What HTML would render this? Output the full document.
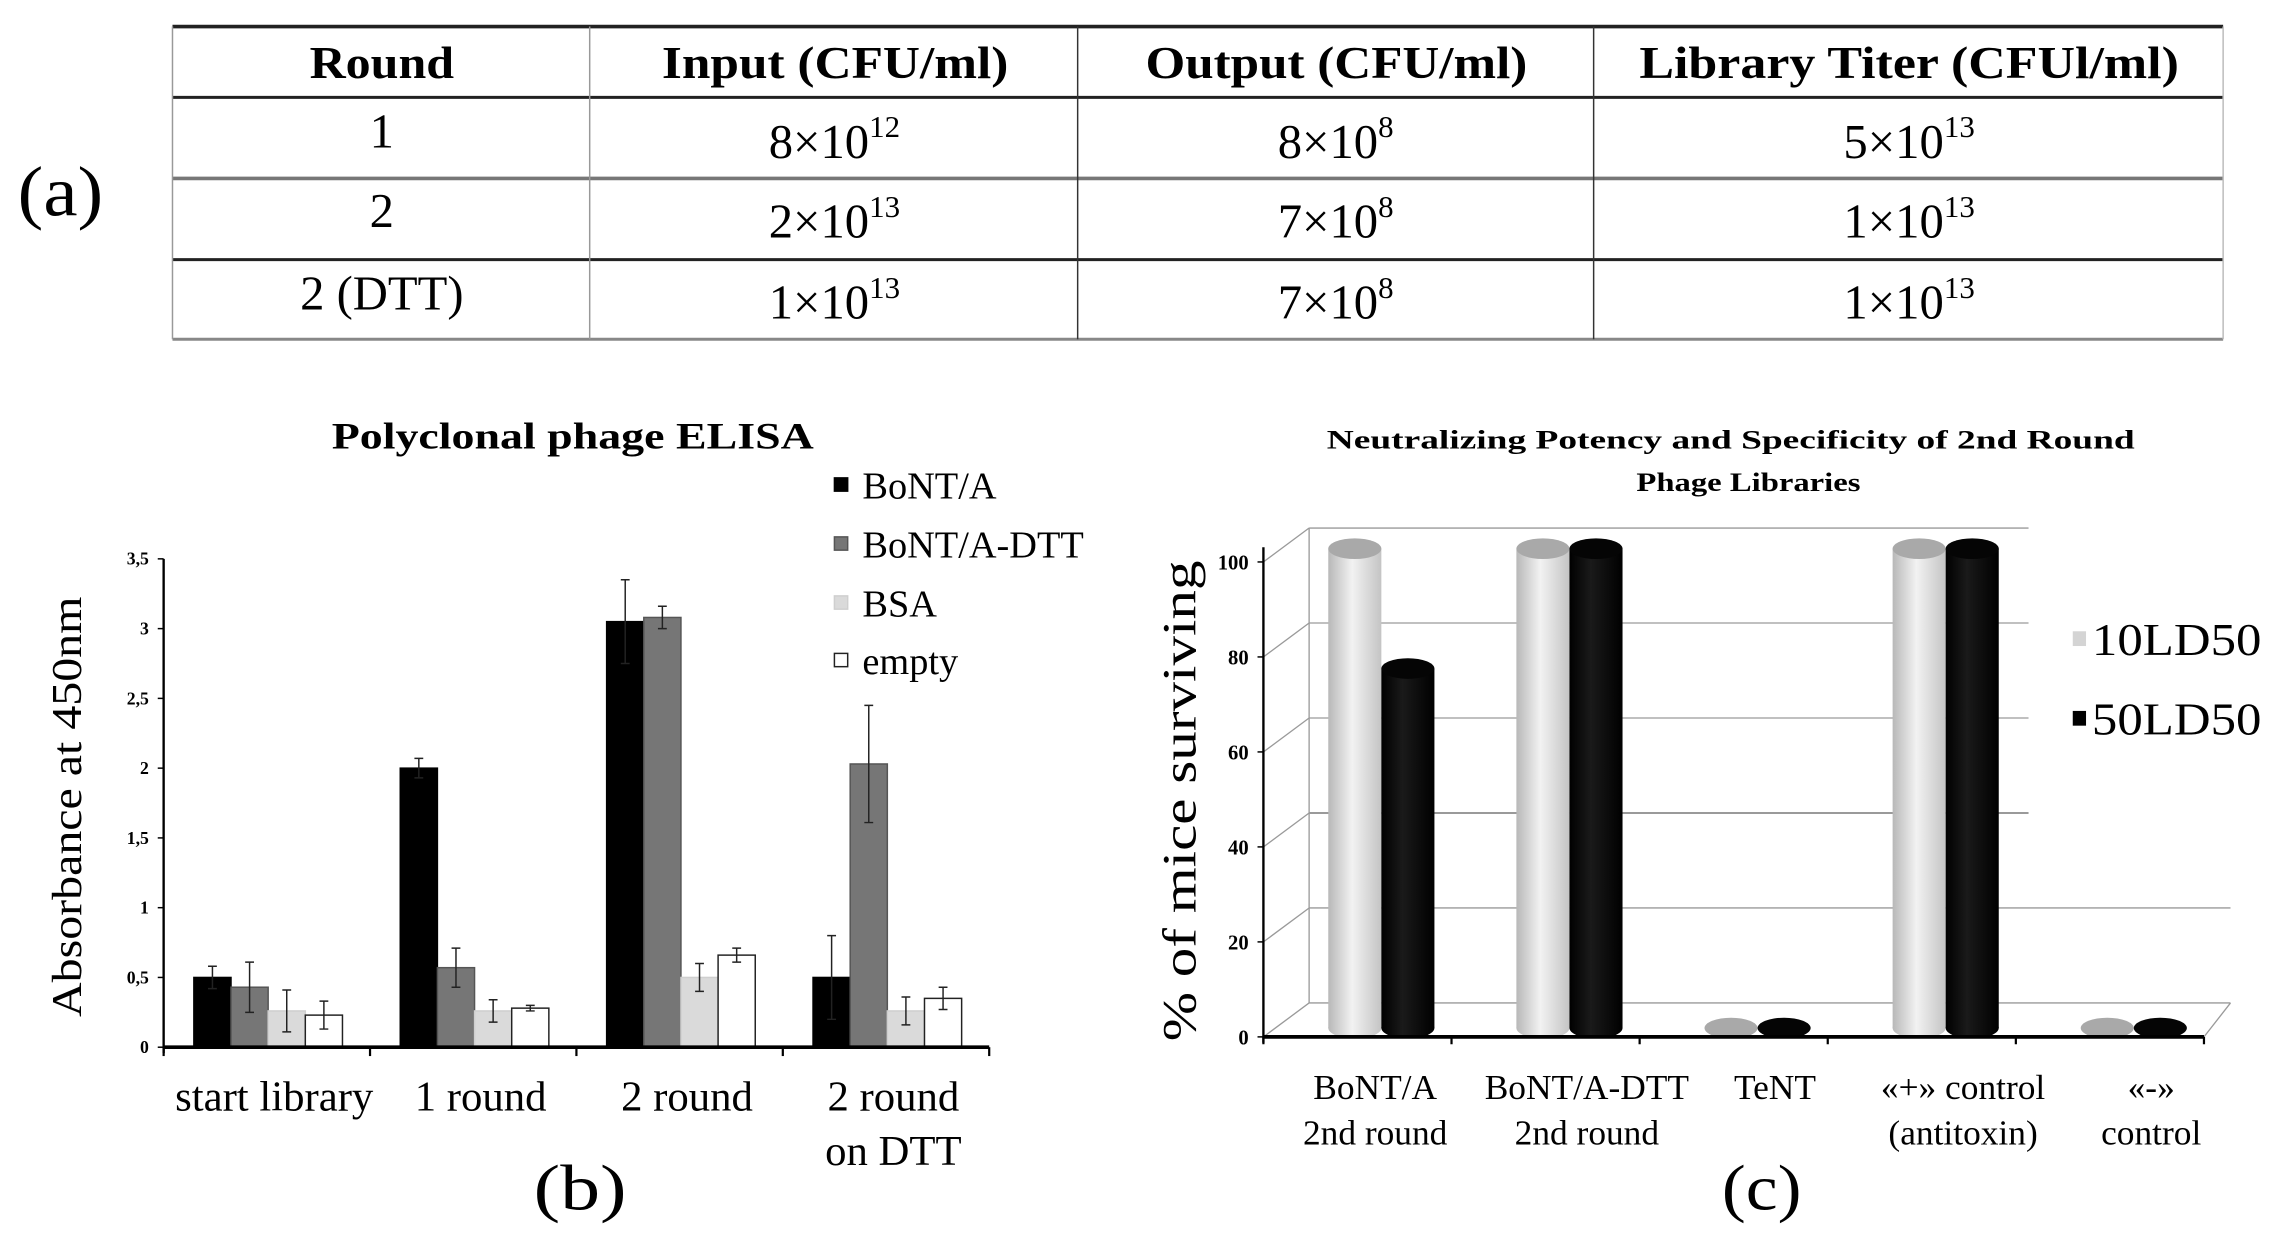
<!DOCTYPE html>
<html><head><meta charset="utf-8">
<style>
html,body{margin:0;padding:0;background:#fff;}
svg{display:block;font-family:"Liberation Serif","Times New Roman","DejaVu Serif",serif;}
text{font-family:"Liberation Serif","Times New Roman","DejaVu Serif",serif;}
</style></head>
<body>
<svg id="fig" width="2288" height="1236" viewBox="0 0 1552 838" preserveAspectRatio="none" xmlns="http://www.w3.org/2000/svg" font-family="Liberation Serif, Times New Roman, DejaVu Serif, serif">
<defs>
<linearGradient id="gLight" x1="0" x2="1" y1="0" y2="0">
<stop offset="0" stop-color="#b8b8b8"/><stop offset="0.45" stop-color="#f2f2f2"/><stop offset="1" stop-color="#c4c4c4"/>
</linearGradient>
<linearGradient id="gDark" x1="0" x2="1" y1="0" y2="0">
<stop offset="0" stop-color="#000"/><stop offset="0.4" stop-color="#1a1a1a"/><stop offset="1" stop-color="#000"/>
</linearGradient>
</defs>

<!-- (a) table -->
<g>
<text x="12" y="146" font-size="48" textLength="58" lengthAdjust="spacingAndGlyphs">(a)</text>
<line x1="117" y1="18" x2="1508" y2="18" stroke="#222" stroke-width="2.5"/>
<line x1="117" y1="66" x2="1508" y2="66" stroke="#222" stroke-width="2"/>
<line x1="117" y1="121" x2="1508" y2="121" stroke="#777" stroke-width="2.5"/>
<line x1="117" y1="176" x2="1508" y2="176" stroke="#222" stroke-width="2"/>
<line x1="117" y1="230" x2="1508" y2="230" stroke="#888" stroke-width="2"/>
<line x1="117" y1="18" x2="117" y2="230" stroke="#999" stroke-width="1"/>
<line x1="400" y1="18" x2="400" y2="230" stroke="#999" stroke-width="1"/>
<line x1="731" y1="18" x2="731" y2="230" stroke="#333" stroke-width="1"/>
<line x1="1081" y1="18" x2="1081" y2="230" stroke="#333" stroke-width="1"/>
<line x1="1508" y1="18" x2="1508" y2="230" stroke="#bbb" stroke-width="1"/>
<g font-size="31" font-weight="bold" lengthAdjust="spacingAndGlyphs">
<text x="210" y="53" textLength="98" lengthAdjust="spacingAndGlyphs">Round</text>
<text x="449" y="53" textLength="235" lengthAdjust="spacingAndGlyphs">Input (CFU/ml)</text>
<text x="777" y="53" textLength="259" lengthAdjust="spacingAndGlyphs">Output (CFU/ml)</text>
<text x="1112" y="53" textLength="366" lengthAdjust="spacingAndGlyphs">Library Titer (CFUl/ml)</text>
</g>
<g font-size="33" text-anchor="middle">
<text x="259" y="100">1</text>
<text x="566" y="107">8×10<tspan font-size="21" dy="-14">12</tspan></text>
<text x="906" y="107">8×10<tspan font-size="21" dy="-14">8</tspan></text>
<text x="1295" y="107">5×10<tspan font-size="21" dy="-14">13</tspan></text>
<text x="259" y="154">2</text>
<text x="566" y="161">2×10<tspan font-size="21" dy="-14">13</tspan></text>
<text x="906" y="161">7×10<tspan font-size="21" dy="-14">8</tspan></text>
<text x="1295" y="161">1×10<tspan font-size="21" dy="-14">13</tspan></text>
<text x="259" y="210">2 (DTT)</text>
<text x="566" y="216">1×10<tspan font-size="21" dy="-14">13</tspan></text>
<text x="906" y="216">7×10<tspan font-size="21" dy="-14">8</tspan></text>
<text x="1295" y="216">1×10<tspan font-size="21" dy="-14">13</tspan></text>
</g>
</g>

<!-- (b) chart -->
<g id="chartB">
<text x="225" y="304" font-size="25" font-weight="bold" textLength="327" lengthAdjust="spacingAndGlyphs">Polyclonal phage ELISA</text>
<text transform="translate(55,547) rotate(-90)" font-size="29" text-anchor="middle" textLength="285" lengthAdjust="spacingAndGlyphs">Absorbance at 450nm</text>
<text x="362" y="820" font-size="44" textLength="63" lengthAdjust="spacingAndGlyphs">(b)</text>
</g>

<!-- (c) chart -->
<g id="chartC">
<text x="900" y="304" font-size="18" font-weight="bold" textLength="548" lengthAdjust="spacingAndGlyphs">Neutralizing Potency and Specificity of 2nd Round</text>
<text x="1110" y="333" font-size="18" font-weight="bold" textLength="152" lengthAdjust="spacingAndGlyphs">Phage Libraries</text>
<text transform="translate(811,543) rotate(-90)" font-size="32" text-anchor="middle" textLength="326" lengthAdjust="spacingAndGlyphs">% of mice surviving</text>
<text x="1168" y="820" font-size="44" textLength="54" lengthAdjust="spacingAndGlyphs">(c)</text>
</g>
</svg>

<script>
// ---------- Chart (b) data ----------
const bCategories = [["start library"], ["1 round"], ["2 round"], ["2 round", "on DTT"]];
const bSeriesNames = ["BoNT/A", "BoNT/A-DTT", "BSA", "empty"];
const bBoNTA = [0.5, 2.0, 3.05, 0.5];
const bBoNTADTT = [0.43, 0.57, 3.08, 2.03];
const bBSA = [0.26, 0.26, 0.5, 0.26];
const bEmpty = [0.23, 0.28, 0.66, 0.35];
const bErrBoNTA = [0.08, 0.07, 0.3, 0.3];
const bErrBoNTADTT = [0.18, 0.14, 0.08, 0.42];
const bErrBSA = [0.15, 0.08, 0.1, 0.1];
const bErrEmpty = [0.1, 0.02, 0.05, 0.08];
const bTicks = ["0", "0,5", "1", "1,5", "2", "2,5", "3", "3,5"];

// ---------- Chart (c) data ----------
const cCategories = [["BoNT/A", "2nd round"], ["BoNT/A-DTT", "2nd round"], ["TeNT"], ["«+» control", "(antitoxin)"], ["«-»", "control"]];
const c10LD50 = [100, 100, 0, 100, 0];
const c50LD50 = [75, 100, 0, 100, 0];
const cTicks = ["0", "20", "40", "60", "80", "100"];

const NS = "http://www.w3.org/2000/svg";
function mk(tag, attrs, parent) {
  const e = document.createElementNS(NS, tag);
  for (const k in attrs) e.setAttribute(k, attrs[k]);
  parent.appendChild(e);
  return e;
}

// ---------- draw (b) ----------
(function () {
  const g = document.getElementById("chartB");
  const x0 = 111, x1 = 671, y0 = 710, unit = 94.6;
  const yB = v => y0 - v * unit;
  const gw = (x1 - x0) / bCategories.length;
  const bw = 25.2, off = 20.5;
  const series = [bBoNTA, bBoNTADTT, bBSA, bEmpty];
  const errs = [bErrBoNTA, bErrBoNTADTT, bErrBSA, bErrEmpty];
  const fills = ["#000", "#767676", "#dadada", "#fff"];
  const strokes = ["#000", "#555", "#cfcfcf", "#222"];
  bTicks.forEach((t, i) => {
    const v = i * 0.5;
    const tx = mk("text", { x: x0 - 10, y: yB(v) + 4, "font-size": 12, "font-weight": "bold", "text-anchor": "end" }, g);
    tx.textContent = t;
    
    
    mk("line", { x1: x0 - 4, y1: yB(v), x2: x0, y2: yB(v), stroke: "#000", "stroke-width": 1 }, g);
  });
  series.forEach((arr, s) => {
    arr.forEach((v, i) => {
      const bx = x0 + i * gw + off + s * bw;
      const r = mk("rect", { x: bx, y: yB(v), width: bw, height: y0 - yB(v), fill: fills[s], stroke: strokes[s], "stroke-width": 1 }, g);
      
      
      const e = errs[s][i], cx = bx + bw / 2;
      const lo = yB(Math.max(0, v - e)), hi = yB(v + e);
      const eb = mk("path", { d: `M${cx},${hi}V${lo}M${cx - 3},${hi}H${cx + 3}M${cx - 3},${lo}H${cx + 3}`, stroke: "#222", "stroke-width": 1, fill: "none" }, g);
      
      
    });
  });
  mk("line", { x1: x0, y1: yB(3.5), x2: x0, y2: y0 + 4, stroke: "#000", "stroke-width": 1.6 }, g);
  mk("line", { x1: x0, y1: y0, x2: x1, y2: y0, stroke: "#000", "stroke-width": 2.5 }, g);
  for (let i = 0; i <= bCategories.length; i++) {
    const tx = x0 + i * gw;
    mk("line", { x1: tx, y1: y0, x2: tx, y2: y0 + 6, stroke: "#000", "stroke-width": 1.5 }, g);
  }
  bCategories.forEach((lines, i) => {
    const cx = x0 + (i + 0.5) * gw + 5;
    lines.forEach((ln, j) => {
      const t = mk("text", { x: cx, y: 753 + j * 37, "font-size": 29, "text-anchor": "middle" }, g);
      t.textContent = ln;
      
      
    });
  });
  const ly = [329, 369, 409, 448];
  bSeriesNames.forEach((n, s) => {
    const sq = mk("rect", { x: 566, y: ly[s] - 5, width: 9, height: 9, fill: fills[s], stroke: strokes[s], "stroke-width": 1 }, g);
    
    
    const t = mk("text", { x: 585, y: ly[s] + 9, "font-size": 26 }, g);
    t.textContent = n;
    
    
  });
})();

// ---------- draw (c) ----------
(function () {
  const g = document.getElementById("chartC");
  const fx0 = 857, fx1 = 1495, fy0 = 703, unit = 3.22;
  const dx = 31, dy = -23, backRight = 1513;
  const yF = v => fy0 - v * unit;
  const cw = (fx1 - fx0) / cCategories.length;
  cTicks.forEach((t, i) => {
    const v = i * 20;
    const right = v >= 40 ? 1376 : backRight;
    const gl = mk("line", { x1: fx0 + dx, y1: yF(v) + dy, x2: right, y2: yF(v) + dy, stroke: "#9a9a9a", "stroke-width": v === 40 ? 1.4 : 0.9 }, g);
    
    
    mk("line", { x1: fx0, y1: yF(v), x2: fx0 + dx, y2: yF(v) + dy, stroke: "#9a9a9a", "stroke-width": 0.9 }, g);
    const tx = mk("text", { x: fx0 - 10, y: yF(v) + 5, "font-size": 14, "font-weight": "bold", "text-anchor": "end" }, g);
    tx.textContent = t;
    
    
    mk("line", { x1: fx0 - 4, y1: yF(v), x2: fx0, y2: yF(v), stroke: "#000", "stroke-width": 1 }, g);
  });
  mk("line", { x1: fx0 + dx, y1: yF(100) + dy, x2: fx0 + dx, y2: fy0 + dy, stroke: "#9a9a9a", "stroke-width": 0.9 }, g);
  mk("line", { x1: fx1, y1: fy0, x2: backRight, y2: fy0 + dy, stroke: "#9a9a9a", "stroke-width": 0.9 }, g);
  const cy0 = 697, cu = 3.25, w = 36, ry = 7;
  const drawCyl = (arr, offX, grad, topFill, name) => {
    arr.forEach((v, i) => {
      const x = fx0 + i * cw + offX;
      const top = cy0 - v * cu;
      const grp = mk("g", {}, g);
      
      
      if (v > 0) {
        mk("ellipse", { cx: x + w / 2, cy: cy0, rx: w / 2, ry: ry, fill: grad }, grp);
        mk("rect", { x: x, y: top, width: w, height: cy0 - top, fill: grad }, grp);
      }
      mk("ellipse", { cx: x + w / 2, cy: top, rx: w / 2, ry: ry, fill: topFill }, grp);
    });
  };
  drawCyl(c10LD50, 44, "url(#gLight)", "#a9a9a9", "cylinder-10ld50");
  drawCyl(c50LD50, 80, "url(#gDark)", "#050505", "cylinder-50ld50");
  mk("line", { x1: fx0, y1: yF(100) - 10, x2: fx0, y2: fy0 + 4, stroke: "#000", "stroke-width": 1.6 }, g);
  mk("line", { x1: fx0, y1: fy0, x2: fx1, y2: fy0, stroke: "#000", "stroke-width": 2.5 }, g);
  for (let i = 0; i <= cCategories.length; i++) {
    const tx = fx0 + i * cw;
    mk("line", { x1: tx, y1: fy0, x2: tx, y2: fy0 + 5, stroke: "#000", "stroke-width": 1.5 }, g);
  }
  cCategories.forEach((lines, i) => {
    const cx = fx0 + (i + 0.5) * cw + (i === 0 ? 12 : 28);
    lines.forEach((ln, j) => {
      const t = mk("text", { x: cx, y: 745 + j * 31, "font-size": 24, "text-anchor": "middle" }, g);
      t.textContent = ln;
      
      
    });
  });
  const leg = [["10LD50", "#d4d4d4", 433], ["50LD50", "#000", 487]];
  leg.forEach(l => {
    const sq = mk("rect", { x: 1406, y: l[2] - 5, width: 9, height: 10, fill: l[1] }, g);
    
    
    const t = mk("text", { x: 1419, y: l[2] + 11, "font-size": 31, textLength: 115, lengthAdjust: "spacingAndGlyphs" }, g);
    t.textContent = l[0];
    
    
  });
})();
</script>
</body></html>
